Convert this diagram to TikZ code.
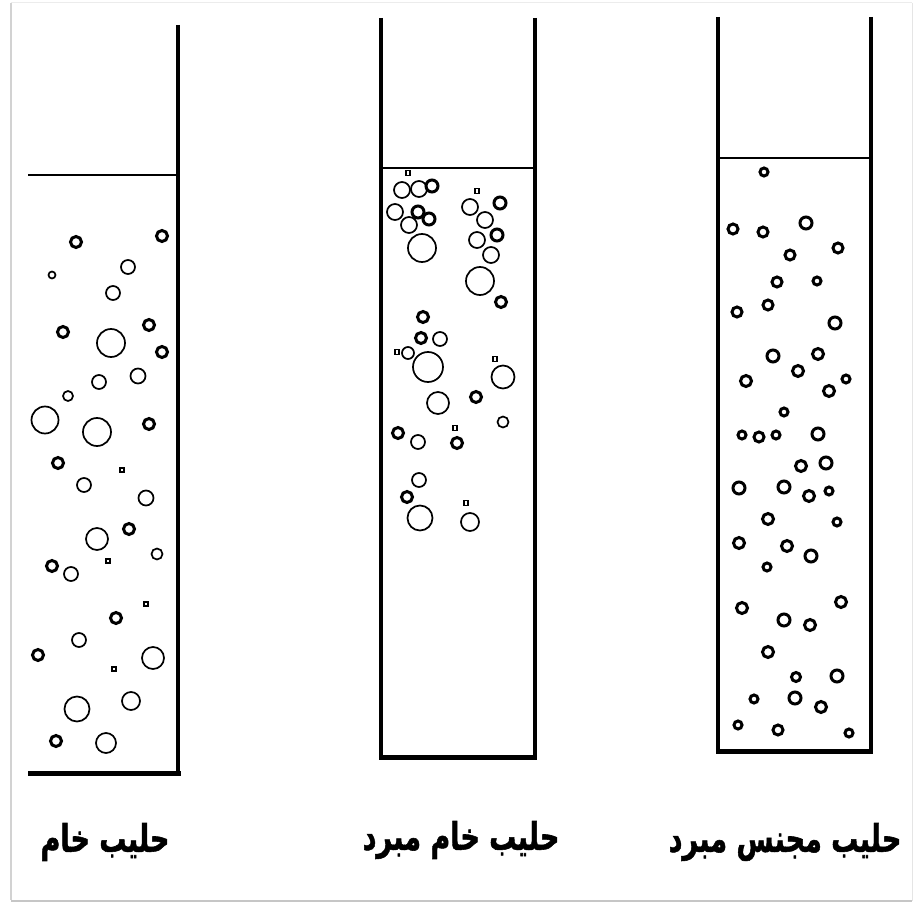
\documentclass[tikz,border=0pt]{standalone}
\usepackage{fontspec}
\TeXXeTstate=1
\newfontfamily\arabicfont[Script=Arabic,FakeBold=1.5]{DejaVu Sans Bold}
\begin{document}
\begin{tikzpicture}[x=1pt,y=-1pt,
  wall/.style={line width=3.4pt},
  level/.style={line width=2.3pt},
  floor/.style={line width=5pt},
  bubble/.style={line width=1.7pt},
  fatbubble/.style={line width=3pt},
  grain/.style={line width=1.5pt},
  caption/.style={font=\arabicfont\fontsize{27}{30}\selectfont, yscale=1.4, transform shape}]
\useasboundingbox (0,0) rectangle (914,907);
\fill[white] (0,0) rectangle (914,907);
% outer frame with a soft shadow
\draw[gray!35, line width=2pt] (11,3) -- (11,900);
\draw[gray!15, line width=1pt] (11,3) -- (912,3);
\draw[gray!45, line width=2.5pt] (11,901) -- (912,901);
\draw[gray!20, line width=1pt] (912,3) -- (912,901);

% ---------- tube 1: raw milk ----------
\draw[wall] (178,25) -- (178,775);
\draw[floor] (28,773) -- (180.5,773);
\draw[level] (28,175) -- (178,175);
\foreach \x/\y/\r in {128/267/7, 113/293/7, 111/343/14, 138/376/7.5, 99/382/7,
  45/420/13.5, 97/432/14, 84/485/7, 146/498/7.5, 97/539/11, 157/554/5.5,
  71/574/7, 79/640/7, 153/658/11, 77/709/12.5, 131/701/9, 106/743/10, 52/275/3.5, 68/396/5}
  \draw[bubble] (\x,\y) circle[radius=\r pt];
\foreach \x/\y/\r in {76/242/5.5, 162/236/5.5, 63/332/5.5, 149/325/5.5, 162/352/5.5,
  149/424/5.5, 58/463/5.5, 129/529/5.5, 52/566/5.5, 116/618/5.5, 38/655/5.5, 56/741/5.5}
  \draw[fatbubble] (\x,\y) circle[radius=\r pt];
\foreach \x/\y in {122/470, 108/561, 146/604, 114/669}
  \draw[grain] (\x-2,\y-2) rectangle (\x+2,\y+2);

% ---------- tube 2: cooled raw milk ----------
\draw[wall] (381,18) -- (381,758);
\draw[wall] (535,18) -- (535,758);
\draw[floor] (379.3,757) -- (536.7,757);
\draw[level] (381,168) -- (535,168);
\foreach \x/\y/\r in {402/190/8, 419/189/8, 395/212/8, 409/225/8, 422/248/14,
  470/207/8, 485/220/8, 477/240/8, 491/255/8, 480/281/14,
  440/339/7, 408/353/6, 428/367/15, 503/377/11.5, 438/403/11, 503/422/5.5,
  418/442/7, 419/480/7, 420/518/12.5, 470/522/9}
  \draw[bubble] (\x,\y) circle[radius=\r pt];
\foreach \x/\y/\r in {432/186/6, 418/212/6, 429/219/6, 500/203/6, 497/235/6,
  501/302/5.5, 423/317/5.5, 421/338/5.5, 476/397/5.5, 398/433/5.5, 457/443/5.5,
  407/497/5.5}
  \draw[fatbubble] (\x,\y) circle[radius=\r pt];
\foreach \x/\y in {408/173, 477/191, 397/352, 495/359, 455/428, 466/503}
  \draw[grain] (\x-2,\y-2.5) rectangle (\x+2,\y+2.5);

% ---------- tube 3: cooled homogenised milk ----------
\draw[wall] (718,17) -- (718,752);
\draw[wall] (871,17) -- (871,752);
\draw[floor] (716.3,751) -- (872.7,751);
\draw[level] (718,158) -- (871,158);
\foreach \x/\y/\r in {764/172/4, 733/229/5, 763/232/5, 806/223/6, 790/255/5,
  838/248/5, 777/282/5, 817/281/4, 737/312/5, 768/305/5, 835/323/6,
  773/356/6, 818/354/5.5, 798/371/5.5, 746/381/5.5, 829/391/5.5, 846/379/4,
  784/412/4, 742/435/4, 759/437/5, 776/435/4, 818/434/6,
  801/466/5.5, 826/463/6, 739/488/6, 784/487/6, 809/496/5.5, 829/491/4,
  768/519/5.5, 837/522/4, 739/543/5.5, 787/546/5.5, 811/556/6, 767/567/4,
  742/608/5.5, 784/620/6, 810/625/5.5, 841/602/5.5, 768/652/5.5, 796/677/4.5,
  837/676/6, 754/699/4, 795/698/6, 821/707/5.5, 738/725/4, 778/730/5, 849/733/4}
  \draw[fatbubble] (\x,\y) circle[radius=\r pt];

% ---------- captions ----------
\node[caption] (raw) at (105,842) {\beginR حليب خام\endR};
\node[caption] (cooled) at (461,840) {\beginR حليب خام مبرد\endR};
\node[caption] (homog) at (785,842) {\beginR حليب مجنس مبرد\endR};
\end{tikzpicture}
\end{document}
